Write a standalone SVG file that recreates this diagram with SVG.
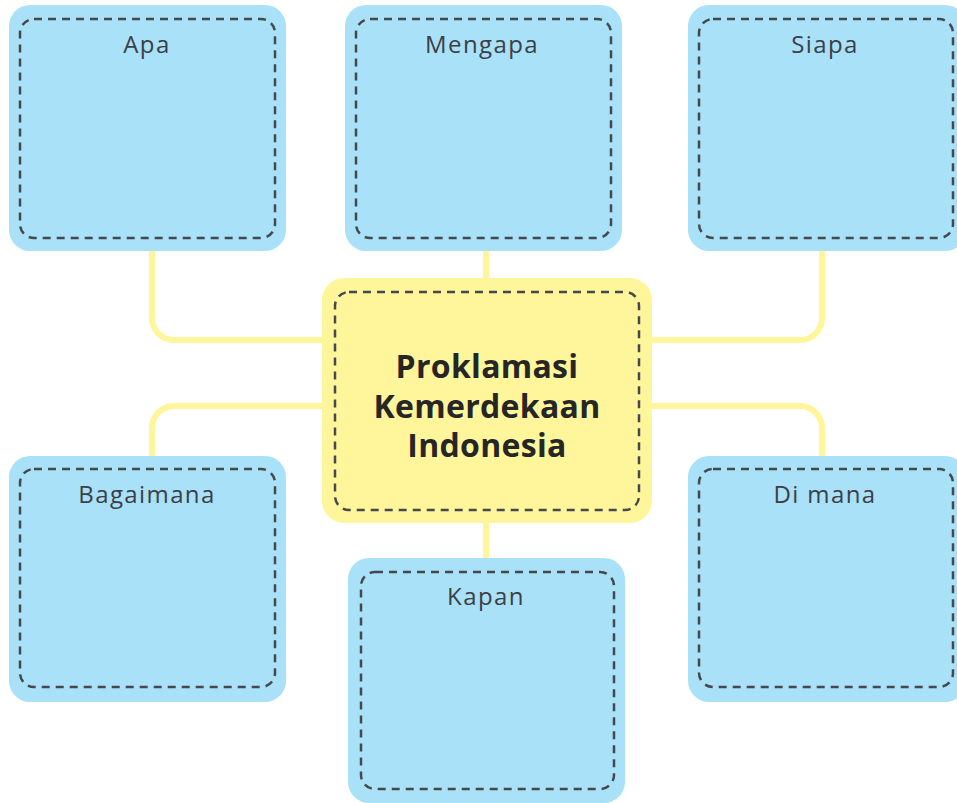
<svg xmlns="http://www.w3.org/2000/svg" width="957" height="803" viewBox="0 0 957 803">
<style>
.box{fill:#a9e1f9;}
.ctr{fill:#fff69c;}
.dash{fill:none;stroke:#45484c;stroke-width:2.5;stroke-dasharray:8 6;}
.conn{fill:none;stroke:#fff59a;stroke-width:6;}
.lbl{font-family:"Open Sans","Noto Sans",sans-serif;font-size:24px;fill:#3c4046;text-anchor:middle;letter-spacing:1.4px;}
.title{font-family:"Open Sans","Noto Sans",sans-serif;font-size:32px;font-weight:bold;fill:#262626;text-anchor:middle;letter-spacing:0.3px;}
</style>
<rect width="957" height="803" fill="#ffffff"/>
<g id="connectors">
<path class="conn" d="M152 250 V318 A22 22 0 0 0 174 340 H326"/>
<path class="conn" d="M822 250 V318 A22 22 0 0 1 800 340 H648"/>
<path class="conn" d="M152 457 V428 A22 22 0 0 1 174 406 H326"/>
<path class="conn" d="M822 457 V428 A22 22 0 0 0 800 406 H648"/>
<path class="conn" d="M486 250 V280"/>
<path class="conn" d="M486 520 V560"/>
</g>
<g id="apa">
<rect class="box" x="9" y="5" width="277" height="246" rx="21"/>
<rect class="dash" x="20" y="19" width="255" height="219" rx="14"/>
<text class="lbl" x="147" y="53">Apa</text>
</g>
<g id="mengapa">
<rect class="box" x="345" y="5" width="277" height="246" rx="21"/>
<rect class="dash" x="356" y="19" width="255" height="219" rx="14"/>
<text class="lbl" x="482" y="53">Mengapa</text>
</g>
<g id="siapa">
<rect class="box" x="688" y="5" width="278" height="246" rx="21"/>
<rect class="dash" x="699" y="19" width="254" height="219" rx="14"/>
<text class="lbl" x="825" y="53">Siapa</text>
</g>
<g id="center">
<rect class="ctr" x="322" y="278" width="330" height="245" rx="22"/>
<rect class="dash" x="335" y="292" width="304" height="218" rx="14"/>
<text class="title" x="487" y="378">Proklamasi</text>
<text class="title" x="487" y="418">Kemerdekaan</text>
<text class="title" x="487" y="457">Indonesia</text>
</g>
<g id="bagaimana">
<rect class="box" x="9" y="456" width="277" height="246" rx="21"/>
<rect class="dash" x="20" y="469" width="255" height="218" rx="14"/>
<text class="lbl" x="147" y="503">Bagaimana</text>
</g>
<g id="kapan">
<rect class="box" x="348" y="558" width="277" height="245" rx="21"/>
<rect class="dash" x="361" y="572" width="253" height="217" rx="14"/>
<text class="lbl" x="486" y="605">Kapan</text>
</g>
<g id="dimana">
<rect class="box" x="688" y="456" width="278" height="246" rx="21"/>
<rect class="dash" x="699" y="469" width="254" height="218" rx="14"/>
<text class="lbl" x="825" y="503">Di mana</text>
</g>
</svg>
